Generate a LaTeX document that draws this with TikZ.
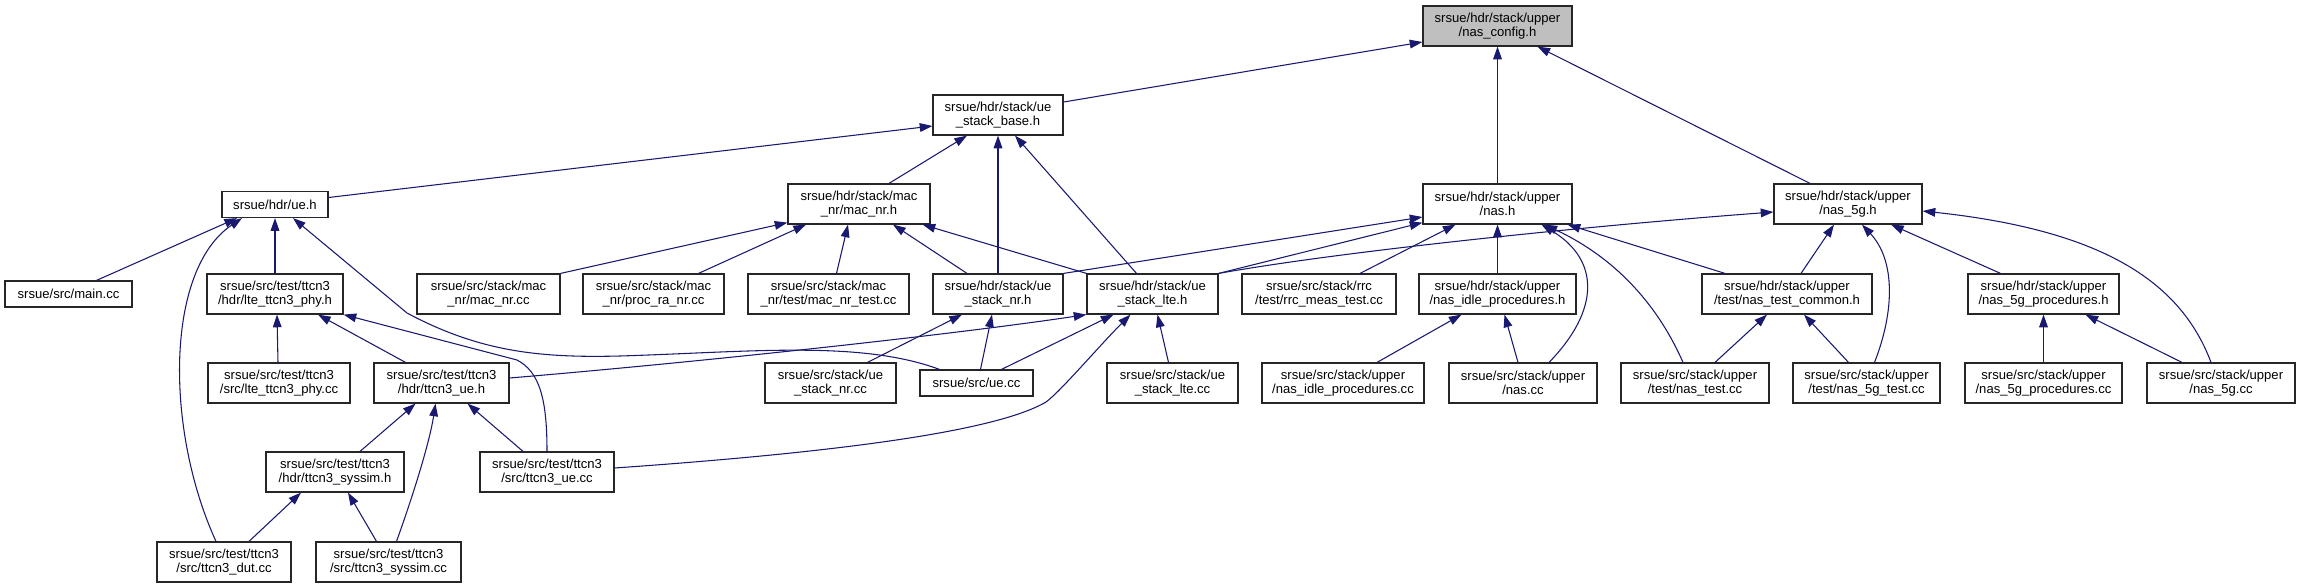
\documentclass[tikz,border=0pt]{standalone}
\usepackage{fontspec}
\setmainfont{Liberation Sans}
\usetikzlibrary{arrows.meta,calc}
\definecolor{edgeblue}{HTML}{191970}
\begin{document}
\begin{tikzpicture}[x=0.75pt,y=-0.75pt,
  box/.style={draw=black!85, line width=0.9pt, fill=white, inner sep=0pt,
    minimum height=30pt, align=center, font=\fontsize{9.8}{10.6}\selectfont},
  bw/.style={minimum width=#1*0.75pt},
  one/.style={minimum height=19.5pt},
  edge/.style={draw=edgeblue, line width=0.8pt, -{Triangle[length=9.5pt,width=6.5pt]}}]
\useasboundingbox (0,0) rectangle (2301,588);
% row 0
\node[box,bw=149,fill=black!25] (nasconfig) at (1497.5,26) {srsue/hdr/stack/upper\\/nas\_config.h};
% row 1
\node[box,bw=130] (stackbase) at (998,115) {srsue/hdr/stack/ue\\\_stack\_base.h};
% row 2
\node[box,bw=106,one] (ueh) at (275,204.5) {srsue/hdr/ue.h};
\node[box,bw=142] (macnrh) at (859,204) {srsue/hdr/stack/mac\\\_nr/mac\_nr.h};
\node[box,bw=149] (nash) at (1497.5,204) {srsue/hdr/stack/upper\\/nas.h};
\node[box,bw=148] (nas5gh) at (1848,204) {srsue/hdr/stack/upper\\/nas\_5g.h};
% row 3
\node[box,bw=127,one] (maincc) at (68.5,294) {srsue/src/main.cc};
\node[box,bw=136] (ltephyh) at (275,294) {srsue/src/test/ttcn3\\/hdr/lte\_ttcn3\_phy.h};
\node[box,bw=143] (macnrcc) at (488.5,294) {srsue/src/stack/mac\\\_nr/mac\_nr.cc};
\node[box,bw=141] (procra) at (653.5,294) {srsue/src/stack/mac\\\_nr/proc\_ra\_nr.cc};
\node[box,bw=161] (macnrtest) at (828.5,294) {srsue/src/stack/mac\\\_nr/test/mac\_nr\_test.cc};
\node[box,bw=130] (stacknrh) at (998,294) {srsue/hdr/stack/ue\\\_stack\_nr.h};
\node[box,bw=131] (stacklteh) at (1152.5,294) {srsue/hdr/stack/ue\\\_stack\_lte.h};
\node[box,bw=154] (rrcmeas) at (1319,294) {srsue/src/stack/rrc\\/test/rrc\_meas\_test.cc};
\node[box,bw=157] (nasidleh) at (1497.5,294) {srsue/hdr/stack/upper\\/nas\_idle\_procedures.h};
\node[box,bw=170] (nastestcommon) at (1787,294) {srsue/hdr/stack/upper\\/test/nas\_test\_common.h};
\node[box,bw=151] (nas5gproch) at (2043.5,294) {srsue/hdr/stack/upper\\/nas\_5g\_procedures.h};
% row 4
\node[box,bw=142] (ltephycc) at (279,383) {srsue/src/test/ttcn3\\/src/lte\_ttcn3\_phy.cc};
\node[box,bw=135] (ttcn3ueh) at (441.5,383) {srsue/src/test/ttcn3\\/hdr/ttcn3\_ue.h};
\node[box,bw=131] (stacknrcc) at (830.5,383) {srsue/src/stack/ue\\\_stack\_nr.cc};
\node[box,bw=113,one] (uecc) at (976.5,383) {srsue/src/ue.cc};
\node[box,bw=131] (stackltecc) at (1172.5,383) {srsue/src/stack/ue\\\_stack\_lte.cc};
\node[box,bw=162] (nasidlecc) at (1343,383) {srsue/src/stack/upper\\/nas\_idle\_procedures.cc};
\node[box,bw=148] (nascc) at (1523,383) {srsue/src/stack/upper\\/nas.cc};
\node[box,bw=148] (nastestcc) at (1695,383) {srsue/src/stack/upper\\/test/nas\_test.cc};
\node[box,bw=147] (nas5gtestcc) at (1866.5,383) {srsue/src/stack/upper\\/test/nas\_5g\_test.cc};
\node[box,bw=157] (nas5gproccc) at (2043.5,383) {srsue/src/stack/upper\\/nas\_5g\_procedures.cc};
\node[box,bw=148] (nas5gcc) at (2221,383) {srsue/src/stack/upper\\/nas\_5g.cc};
% row 5
\node[box,bw=138] (syssimh) at (335,472) {srsue/src/test/ttcn3\\/hdr/ttcn3\_syssim.h};
\node[box,bw=134] (ttcn3uecc) at (547,472) {srsue/src/test/ttcn3\\/src/ttcn3\_ue.cc};
% row 6
\node[box,bw=134] (dutcc) at (224,562) {srsue/src/test/ttcn3\\/src/ttcn3\_dut.cc};
\node[box,bw=145] (syssimcc) at (388.5,562) {srsue/src/test/ttcn3\\/src/ttcn3\_syssim.cc};

% edges
\draw[edge] ($(stackbase.east)+(0,-13)$) -- ($(nasconfig.west)+(0,16)$);
\draw[edge] (nash.north) -- (nasconfig.south);
\draw[edge] ($(nas5gh.north)+(-38,0)$) -- ($(nasconfig.south)+(40,0)$);
\draw[edge] ($(ueh.east)+(0,-7)$) -- ($(stackbase.west)+(0,11)$);
\draw[edge] ($(macnrh.north)+(30,0)$) -- ($(stackbase.south)+(-31,0)$);
\draw[edge] (stacknrh.north) -- (stackbase.south);
\draw[edge] ($(stacklteh.north)+(-16,0)$) -- ($(stackbase.south)+(17,0)$);
\draw[edge] ($(maincc.north)+(28,0)$) -- ($(ueh.south)+(-38,0)$);
\draw[edge] ($(dutcc.north)+(-8,0)$) .. controls (165,430) and (165,270) .. ($(ueh.south)+(-33,0)$);
\draw[edge] (ltephyh.north) -- (ueh.south);
\draw[edge] ($(uecc.north)+(-37,0)$) .. controls (860,340) and (750,352) .. (620,356)
  .. controls (540,358) and (480,352) .. (407,313) -- ($(ueh.south)+(18,0)$);
\draw[edge] ($(ltephycc.north)+(-1,0)$) -- ($(ltephyh.south)+(2,0)$);
\draw[edge] ($(ttcn3ueh.north)+(-36,0)$) -- ($(ltephyh.south)+(43,0)$);
\draw[edge] (ttcn3uecc.north) .. controls (547,400) and (540,372) .. (517,360) -- (ltephyh.south east);
\draw[edge] ($(syssimh.north)+(25,0)$) -- ($(ttcn3ueh.south)+(-26,0)$);
\draw[edge] ($(syssimcc.north)+(8,0)$) .. controls (415,490) and (430,440) .. ($(ttcn3ueh.south)+(-6,0)$);
\draw[edge] ($(ttcn3uecc.north)+(-24,0)$) -- ($(ttcn3ueh.south)+(26,0)$);
\draw[edge] ($(dutcc.north)+(25,0)$) -- ($(syssimh.south)+(-34,0)$);
\draw[edge] ($(syssimcc.north)+(-12,0)$) -- ($(syssimh.south)+(13,0)$);
\draw[edge] (macnrcc.north east) -- ($(macnrh.south west)+(0,-2)$);
\draw[edge] ($(procra.north)+(45,0)$) -- ($(macnrh.south)+(-53,0)$);
\draw[edge] ($(macnrtest.north)+(8,0)$) -- ($(macnrh.south)+(-11,0)$);
\draw[edge] ($(stacknrh.north)+(-31,0)$) -- ($(macnrh.south)+(34,0)$);
\draw[edge] (stacklteh.north west) -- ($(macnrh.south east)+(-8,0)$);
\draw[edge] (stacknrh.north east) -- ($(nash.west)+(0,13)$);
\draw[edge] (stacklteh.north east) -- ($(nash.south west)+(0,-2)$);
\draw[edge] ($(rrcmeas.north)+(41,0)$) -- ($(nash.south)+(-42,0)$);
\draw[edge] (nasidleh.north) -- (nash.south);
\draw[edge] ($(nascc.north)+(26,0)$) .. controls (1600,310) and (1600,260) .. ($(nash.south)+(44,0)$);
\draw[edge] ($(nastestcc.north)+(-12,0)$) .. controls (1660,310) and (1620,260) .. ($(nash.south)+(47,0)$);
\draw[edge] ($(nastestcommon.north)+(-62,0)$) -- ($(nash.south east)+(-5,0)$);
\draw[edge] ($(nasidlecc.north)+(34,0)$) -- ($(nasidleh.south)+(-36,0)$);
\draw[edge] ($(nascc.north)+(-5,0)$) -- ($(nasidleh.south)+(7,0)$);
\draw[edge] (stacklteh.north east) .. controls (1350,250) and (1600,225) .. ($(nas5gh.west)+(0,8)$);
\draw[edge] ($(nastestcommon.north)+(14,0)$) -- ($(nas5gh.south)+(-14,0)$);
\draw[edge] ($(nas5gtestcc.north)+(8,0)$) .. controls (1895,310) and (1895,260) .. ($(nas5gh.south)+(14,0)$);
\draw[edge] ($(nas5gproch.north)+(-43,0)$) -- ($(nas5gh.south)+(43,0)$);
\draw[edge] ($(nas5gcc.north)+(-10,0)$) .. controls (2180,280) and (2100,230) .. ($(nas5gh.east)+(0,7)$);
\draw[edge] (nas5gproccc.north) -- (nas5gproch.south);
\draw[edge] ($(nas5gcc.north)+(-39,0)$) -- ($(nas5gproch.south)+(42,0)$);
\draw[edge] ($(nastestcc.north)+(20,0)$) -- ($(nastestcommon.south)+(-20,0)$);
\draw[edge] ($(nas5gtestcc.north)+(-18,0)$) -- ($(nastestcommon.south)+(17,0)$);
\draw[edge] ($(stacknrcc.north)+(37,0)$) -- ($(stacknrh.south)+(-36,0)$);
\draw[edge] ($(uecc.north)+(4,0)$) -- ($(stacknrh.south)+(-6,0)$);
\draw[edge] ($(uecc.north)+(25,0)$) -- ($(stacklteh.south)+(-39,0)$);
\draw[edge] ($(ttcn3uecc.east)+(0,-4)$) .. controls (800,455) and (990,435) .. (1046,402)
  .. controls (1060,392) and (1100,345) .. ($(stacklteh.south)+(-22,0)$);
\draw[edge] ($(ttcn3ueh.east)+(0,-5)$) .. controls (700,362) and (950,335) .. (stacklteh.south west);
\draw[edge] ($(stackltecc.north)+(-4,0)$) -- ($(stacklteh.south)+(5,0)$);
\end{tikzpicture}
\end{document}
